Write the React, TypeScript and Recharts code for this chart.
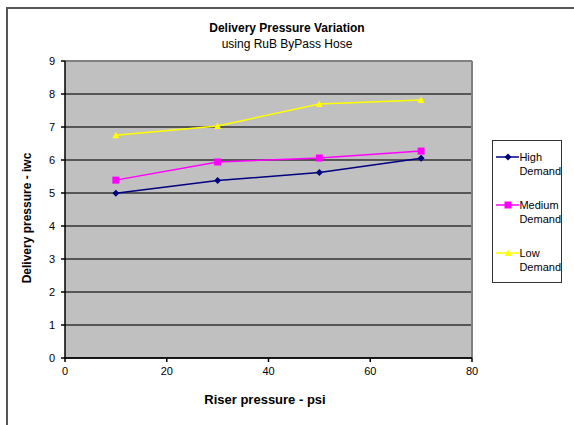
import React from 'react';
import { LineChart, Line, XAxis, YAxis, CartesianGrid, ReferenceLine } from 'recharts';

const riserPsi = [10, 30, 50, 70];
const highDemand = [4.99, 5.38, 5.62, 6.05];
const mediumDemand = [5.39, 5.94, 6.06, 6.27];
const lowDemand = [6.75, 7.03, 7.7, 7.82];
const xTicks = [0, 20, 40, 60, 80];
const yTicks = [0, 1, 2, 3, 4, 5, 6, 7, 8, 9];

const data = riserPsi.map((x, i) => ({
  x,
  high: highDemand[i],
  medium: mediumDemand[i],
  low: lowDemand[i],
}));

const FONT = 'Liberation Sans, Arial, sans-serif';

const Diamond = ({ cx, cy, fill }: any) => (
  <polygon points={`${cx},${cy - 3.5} ${cx + 3.5},${cy} ${cx},${cy + 3.5} ${cx - 3.5},${cy}`} fill={fill} />
);
const Square = ({ cx, cy, fill }: any) => <rect x={cx - 3.5} y={cy - 3.5} width={7} height={7} fill={fill} />;
const Triangle = ({ cx, cy, fill }: any) => (
  <polygon points={`${cx},${cy - 3.5} ${cx + 3.5},${cy + 3} ${cx - 3.5},${cy + 3}`} fill={fill} />
);

const series = [
  { key: 'high', name: ['High', 'Demand'], color: '#000080', shape: Diamond },
  { key: 'medium', name: ['Medium', 'Demand'], color: '#FF00FF', shape: Square },
  { key: 'low', name: ['Low', 'Demand'], color: '#FFFF00', shape: Triangle },
];

const LegendBox = () => (
  <div
    style={{
      position: 'absolute',
      left: 492,
      top: 140,
      width: 68,
      height: 141,
      border: '1px solid #333',
      background: '#fff',
      fontFamily: FONT,
      fontSize: 11,
      color: '#000',
    }}
  >
    {series.map((s, i) => {
      const Shape = s.shape;
      return (
        <div key={s.key} style={{ display: 'flex', alignItems: 'flex-start', marginTop: i === 0 ? 10 : 21, lineHeight: '13.5px' }}>
          <svg width={26} height={12} style={{ marginLeft: 2 }}>
            <line x1={1} y1={6} x2={24} y2={6} stroke={s.color} strokeWidth={1.5} />
            <Shape cx={13} cy={6} fill={s.color} />
          </svg>
          <div>
            {s.name[0]}
            <br />
            {s.name[1]}
          </div>
        </div>
      );
    })}
  </div>
);

export default function App() {
  return (
    <div style={{ position: 'absolute', left: 0, top: 0, width: 574, height: 425, background: '#fff', fontFamily: FONT }}>
      <div style={{ position: 'absolute', left: 6, top: 7, width: 568, height: 418, borderLeft: '2px solid #555', borderTop: '2px solid #555' }} />
      <LineChart width={574} height={425} data={data} margin={{ top: 61, right: 102, bottom: 37, left: 35 }} style={{ position: 'absolute', left: 0, top: 0 }}>
        <CartesianGrid vertical={false} fill="#C0C0C0" stroke="#333" strokeWidth={1.5} horizontalValues={yTicks} />
        <ReferenceLine y={9} stroke="#808080" strokeWidth={2} />
        <ReferenceLine x={80} stroke="#808080" strokeWidth={2} />
        <XAxis
          type="number"
          dataKey="x"
          domain={[0, 80]}
          ticks={xTicks}
          stroke="#000"
          strokeWidth={1.5}
          tickSize={4}
          tick={{ fill: '#000', fontSize: 11, fontFamily: FONT, dy: 3 }}
          height={30}
        />
        <YAxis
          type="number"
          domain={[0, 9]}
          ticks={yTicks}
          interval={0}
          stroke="#000"
          strokeWidth={1.5}
          tickSize={4}
          tick={{ fill: '#000', fontSize: 11, fontFamily: FONT, dx: -4 }}
          width={30}
        />
        {series.map((s) => {
          const Shape = s.shape;
          return (
            <Line
              key={s.key}
              type="linear"
              dataKey={s.key}
              stroke={s.color}
              strokeWidth={1.5}
              dot={(p: any) => <Shape key={p.index} cx={p.cx} cy={p.cy} fill={s.color} />}
              activeDot={false}
              isAnimationActive={false}
            />
          );
        })}
      </LineChart>
      <div style={{ position: 'absolute', left: 0, width: 574, top: 21, textAlign: 'center', fontSize: 12, fontWeight: 'bold', color: '#000' }}>
        Delivery Pressure Variation
      </div>
      <div style={{ position: 'absolute', left: 0, width: 574, top: 37, textAlign: 'center', fontSize: 12, color: '#000' }}>
        using RuB ByPass Hose
      </div>
      <div style={{ position: 'absolute', left: 65, width: 400, top: 392, textAlign: 'center', fontSize: 13, fontWeight: 'bold', color: '#000' }}>
        Riser pressure - psi
      </div>
      <div
        style={{
          position: 'absolute',
          left: 27,
          top: 218,
          transform: 'translate(-50%, -50%) rotate(-90deg)',
          whiteSpace: 'nowrap',
          fontSize: 12,
          fontWeight: 'bold',
          color: '#000',
        }}
      >
        Delivery pressure - iwc
      </div>
      <LegendBox />
    </div>
  );
}
